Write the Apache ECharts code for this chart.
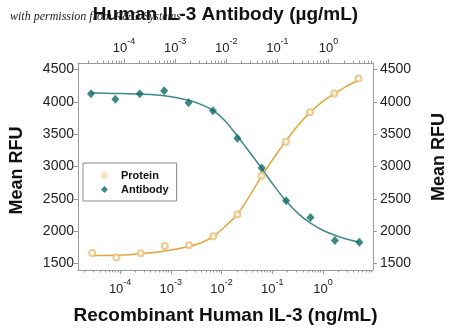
<!DOCTYPE html>
<html><head><meta charset="utf-8">
<script src="https://cdn.jsdelivr.net/npm/echarts@6/dist/echarts.min.js"></script>
<style>html,body{margin:0;padding:0;background:#fff}#c{width:450px;height:331px}</style>
</head><body><div id="c"></div>
<script>
// Recombinant Human IL-3 (ng/mL) - Protein
const proteinConc = [0.0000282, 0.0000847, 0.000254, 0.000762, 0.00229, 0.00686, 0.0206, 0.0617, 0.185, 0.556, 1.667, 5];
const proteinRFU  = [1663, 1592, 1659, 1772, 1783, 1922, 2259, 2857, 3384, 3840, 4128, 4361];
// Human IL-3 Antibody (ug/mL)
const antibodyConc = [0.0000226, 0.0000677, 0.000203, 0.00061, 0.00183, 0.00549, 0.0165, 0.0494, 0.148, 0.444, 1.333, 4];
const antibodyRFU  = [4123, 4041, 4123, 4170, 3984, 3860, 3437, 2976, 2470, 2212, 1856, 1829];
// fitted curves
const proteinFitConc = [0.0000282, 0.0000847, 0.000254, 0.000762, 0.00229, 0.00396, 0.00686, 0.0119, 0.0206, 0.0356, 0.0617, 0.107, 0.185, 0.321, 0.556, 0.962, 1.667, 2.89, 5];
const proteinFitRFU  = [1623, 1628, 1651, 1693, 1763, 1822, 1915, 2077, 2263, 2542, 2852, 3131, 3395, 3635, 3837, 4000, 4123, 4240, 4333];
const antibodyFitConc = [0.0000226, 0.0000677, 0.000203, 0.00061, 0.00183, 0.00317, 0.00549, 0.00952, 0.0165, 0.0285, 0.0494, 0.0855, 0.148, 0.256, 0.444, 0.770, 1.333, 2.31, 4];
const antibodyFitRFU  = [4139, 4130, 4119, 4095, 4023, 3961, 3868, 3705, 3472, 3224, 2969, 2705, 2465, 2271, 2124, 2015, 1938, 1876, 1834];
// ticks
const xTickValues = [0.0001, 0.001, 0.01, 0.1, 1];
const xTickExps = ['-4', '-3', '-2', '-1', '0'];
const yTickValues = [1500, 2000, 2500, 3000, 3500, 4000, 4500];
const seriesNames = ['Protein', 'Antibody'];

const bottomMin = Math.pow(10, -4.83), bottomMax = Math.pow(10, 0.985);
const topMin = Math.pow(10, -4.9), topMax = Math.pow(10, 0.87);

function minorTicks(lo, hi) {
  const out = [];
  for (let d = -6; d <= 1; d++) {
    for (let m = 2; m <= 9; m++) {
      const v = m * Math.pow(10, d);
      if (v > lo && v < hi) out.push(v);
    }
  }
  return out;
}
function expLabel(v) {
  let best = 0, bd = Infinity;
  xTickValues.forEach((t, i) => { const d = Math.abs(Math.log10(v) - Math.log10(t)); if (d < bd) { bd = d; best = i; } });
  if (bd > 0.01) return '';
  return '{b|10}{s|' + xTickExps[best] + '}';
}
const FONT = 'Liberation Sans, Arial, sans-serif';
const AXC = '#9a9a9a';
const richLab = {
  b: { fontSize: 13, fontFamily: FONT, color: '#222', lineHeight: 18, verticalAlign: 'bottom' },
  s: { fontSize: 9, fontFamily: FONT, color: '#222', lineHeight: 12, verticalAlign: 'top' }
};
function logAxis(pos, min, max, labels) {
  return {
    type: 'log', logBase: 10, position: pos, min: min, max: max, gridIndex: 0,
    axisLine: { show: labels, lineStyle: { color: AXC, width: 1 } },
    axisTick: labels
      ? { show: true, inside: false, length: 4, customValues: xTickValues, lineStyle: { color: AXC } }
      : { show: true, inside: false, length: 2.5, customValues: minorTicks(min, max), lineStyle: { color: AXC } },
    axisLabel: labels
      ? { show: true, customValues: xTickValues, formatter: expLabel, rich: richLab, margin: 8 }
      : { show: false },
    splitLine: { show: false }, minorTick: { show: false }
  };
}
function valAxis(pos) {
  return {
    type: 'value', position: pos, min: 1400, max: 4600,
    axisLine: { show: true, lineStyle: { color: AXC } },
    axisTick: { show: true, length: 4, customValues: yTickValues, lineStyle: { color: AXC } },
    axisLabel: { customValues: yTickValues, formatter: v => String(Math.round(v)), fontSize: 14, fontFamily: FONT, color: '#222', margin: pos === 'left' ? 4 : 7 },
    splitLine: { show: false }
  };
}

const chart = echarts.init(document.getElementById('c'), null, { renderer: 'canvas' });
chart.setOption({
  animation: false,
  backgroundColor: '#fff',
  grid: { left: 78, top: 63, width: 295, height: 207, show: false },
  xAxis: [
    logAxis('bottom', bottomMin, bottomMax, true),
    logAxis('top', topMin, topMax, true),
    logAxis('bottom', bottomMin, bottomMax, false),
    logAxis('top', topMin, topMax, false)
  ],
  yAxis: [valAxis('left'), valAxis('right')],
  legend: {
    data: [{ name: seriesNames[0], icon: 'circle', itemStyle: { color: '#f3dcb4' } }, { name: seriesNames[1], icon: 'diamond' }],
    orient: 'vertical', left: 83, top: 163,
    padding: [7, 8, 6, 18], itemGap: 3, itemWidth: 7, itemHeight: 7,
    borderColor: '#888', borderWidth: 1, borderRadius: 0,
    textStyle: { fontFamily: FONT, fontSize: 11, fontWeight: 'bold', color: '#111', padding: [0, 0, 0, 8] }
  },
  graphic: [
    { type: 'text', x: 225.5, y: 15, style: { text: 'Human IL-3 Antibody (\u00b5g/mL)', align: 'center', verticalAlign: 'middle', font: 'bold 19px ' + FONT, fill: '#111' } },
    { type: 'text', x: 10, y: 16.5, style: { text: 'with permission from R&D Systems', align: 'left', verticalAlign: 'middle', font: 'italic 12px Liberation Serif, serif', fill: '#222' } },
    { type: 'text', x: 225.5, y: 316, style: { text: 'Recombinant Human IL-3 (ng/mL)', align: 'center', verticalAlign: 'middle', font: 'bold 19px ' + FONT, fill: '#111' } },
    { type: 'text', x: 17, y: 170.5, rotation: Math.PI / 2, style: { text: 'Mean RFU', align: 'center', verticalAlign: 'middle', font: 'bold 18px ' + FONT, fill: '#111' } },
    { type: 'text', x: 439, y: 157, rotation: Math.PI / 2, style: { text: 'Mean RFU', align: 'center', verticalAlign: 'middle', font: 'bold 18px ' + FONT, fill: '#111' } }
  ],
  series: [
    { name: 'ProteinFit', type: 'line', xAxisIndex: 0, yAxisIndex: 0, smooth: 0.3, showSymbol: false, silent: true,
      data: proteinFitConc.map((c, i) => [c, proteinFitRFU[i]]), lineStyle: { color: '#e3a63c', width: 1.5 }, z: 2 },
    { name: 'AntibodyFit', type: 'line', xAxisIndex: 1, yAxisIndex: 0, smooth: 0.3, showSymbol: false, silent: true,
      data: antibodyFitConc.map((c, i) => [c, antibodyFitRFU[i]]), lineStyle: { color: '#3a8a88', width: 1.5 }, z: 2 },
    { name: seriesNames[0], type: 'scatter', xAxisIndex: 0, yAxisIndex: 0, symbol: 'emptyCircle', symbolSize: 6,
      itemStyle: { color: '#ebbd70', borderWidth: 1 }, data: proteinConc.map((c, i) => [c, proteinRFU[i]]), z: 3 },
    { name: seriesNames[1], type: 'scatter', xAxisIndex: 1, yAxisIndex: 0, symbol: 'diamond', symbolSize: [8, 9],
      itemStyle: { color: '#0e6a63' }, data: antibodyConc.map((c, i) => [c, antibodyRFU[i]]), z: 3 }
  ]
});
</script></body></html>
